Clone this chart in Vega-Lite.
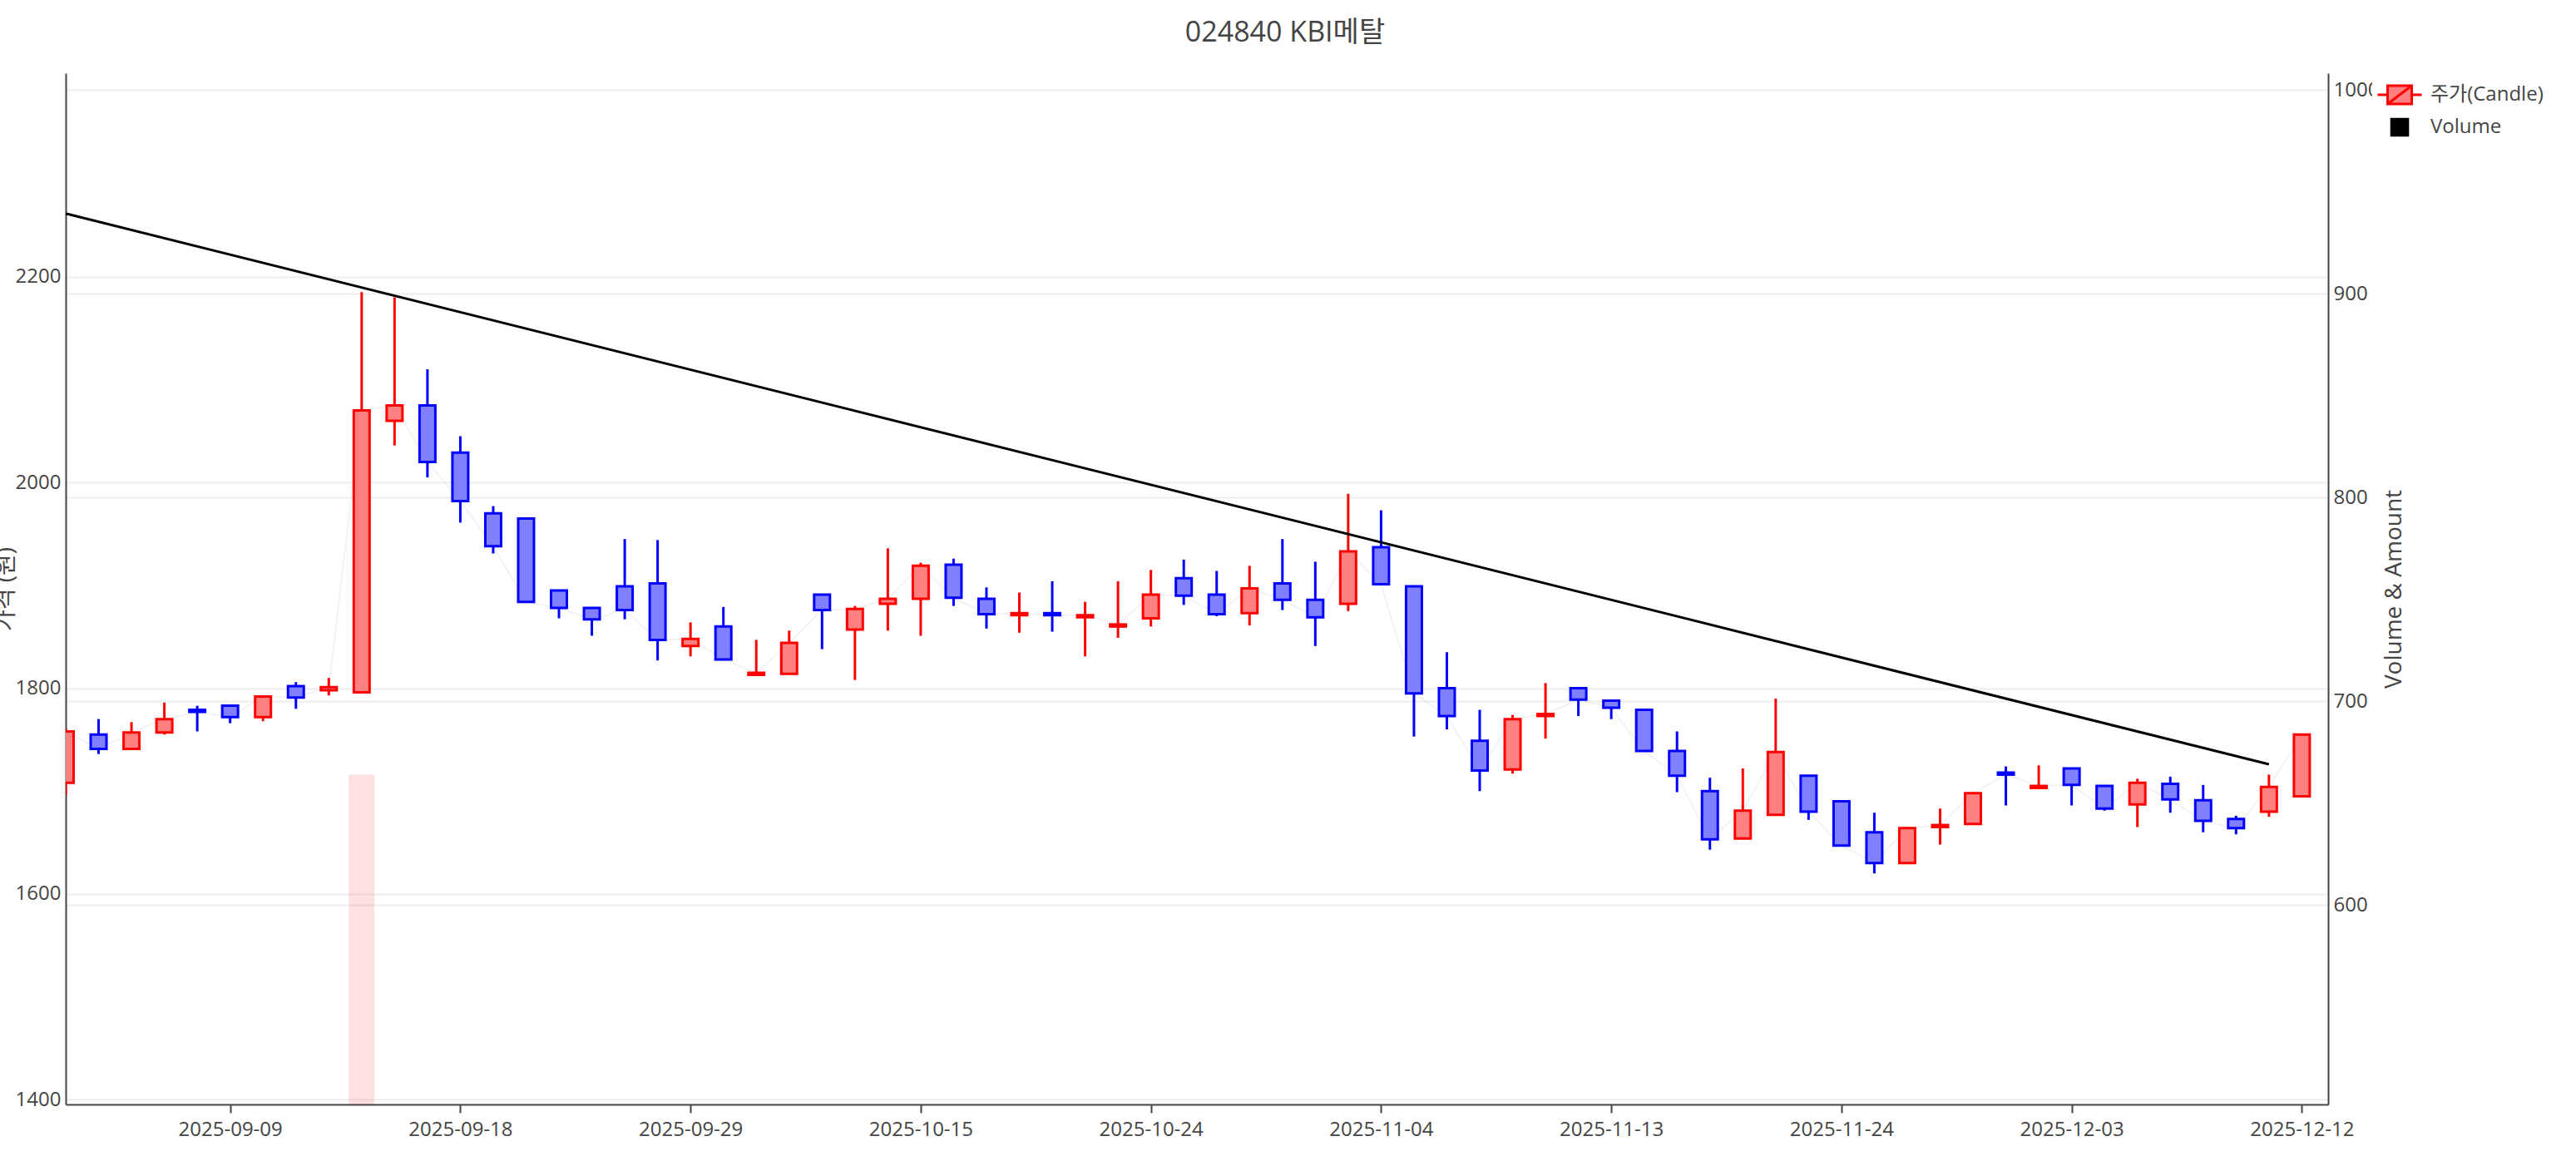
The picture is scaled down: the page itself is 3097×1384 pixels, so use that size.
{
  "$schema": "https://vega.github.io/schema/vega-lite/v6.json",
  "width": 2720,
  "height": 1240,
  "autosize": {"type": "none"},
  "padding": {"left": 79, "top": 88, "right": 298, "bottom": 56},
  "background": "white",
  "config": {"view": {"stroke": null}, "font": "Open Sans, Noto Sans CJK KR, sans-serif"},
  "title": {"text": "024840 KBI메탈", "fontSize": 34, "color": "#444444", "fontWeight": "normal", "anchor": "middle", "dx": 106, "offset": 24},
  "datasets": {
    "ohlc": [
      {"d": "2025-09-02", "o": 1708, "h": 1761, "l": 1696, "c": 1758},
      {"d": "2025-09-03", "o": 1755, "h": 1770, "l": 1736, "c": 1741},
      {"d": "2025-09-04", "o": 1741, "h": 1767, "l": 1741, "c": 1757},
      {"d": "2025-09-05", "o": 1757, "h": 1786, "l": 1755, "c": 1770},
      {"d": "2025-09-08", "o": 1779, "h": 1783, "l": 1758, "c": 1777},
      {"d": "2025-09-09", "o": 1783, "h": 1783, "l": 1766, "c": 1772},
      {"d": "2025-09-10", "o": 1772, "h": 1792, "l": 1768, "c": 1792},
      {"d": "2025-09-11", "o": 1802, "h": 1806, "l": 1780, "c": 1791},
      {"d": "2025-09-12", "o": 1798, "h": 1810, "l": 1793, "c": 1801},
      {"d": "2025-09-15", "o": 1796, "h": 2185, "l": 1796, "c": 2070},
      {"d": "2025-09-16", "o": 2060, "h": 2180, "l": 2036, "c": 2075},
      {"d": "2025-09-17", "o": 2075, "h": 2110, "l": 2005, "c": 2020},
      {"d": "2025-09-18", "o": 2029, "h": 2045, "l": 1961, "c": 1982},
      {"d": "2025-09-19", "o": 1970, "h": 1977, "l": 1931, "c": 1938},
      {"d": "2025-09-22", "o": 1965, "h": 1965, "l": 1884, "c": 1884},
      {"d": "2025-09-23", "o": 1895, "h": 1895, "l": 1868, "c": 1878},
      {"d": "2025-09-24", "o": 1878, "h": 1878, "l": 1851, "c": 1867},
      {"d": "2025-09-25", "o": 1899, "h": 1945, "l": 1867, "c": 1876},
      {"d": "2025-09-26", "o": 1902, "h": 1944, "l": 1827, "c": 1847},
      {"d": "2025-09-29", "o": 1841, "h": 1864, "l": 1831, "c": 1848},
      {"d": "2025-09-30", "o": 1860, "h": 1879, "l": 1828, "c": 1828},
      {"d": "2025-10-01", "o": 1813, "h": 1847, "l": 1813, "c": 1815},
      {"d": "2025-10-02", "o": 1814, "h": 1856, "l": 1814, "c": 1844},
      {"d": "2025-10-10", "o": 1891, "h": 1891, "l": 1838, "c": 1876},
      {"d": "2025-10-13", "o": 1857, "h": 1880, "l": 1808, "c": 1877},
      {"d": "2025-10-14", "o": 1882, "h": 1936, "l": 1856, "c": 1887},
      {"d": "2025-10-15", "o": 1887, "h": 1922, "l": 1851, "c": 1919},
      {"d": "2025-10-16", "o": 1920, "h": 1926, "l": 1880, "c": 1888},
      {"d": "2025-10-17", "o": 1887, "h": 1898, "l": 1858, "c": 1872},
      {"d": "2025-10-20", "o": 1871, "h": 1893, "l": 1854, "c": 1873},
      {"d": "2025-10-21", "o": 1873, "h": 1904, "l": 1855, "c": 1871},
      {"d": "2025-10-22", "o": 1869, "h": 1884, "l": 1831, "c": 1871},
      {"d": "2025-10-23", "o": 1860, "h": 1904, "l": 1849, "c": 1862},
      {"d": "2025-10-24", "o": 1868, "h": 1915, "l": 1860, "c": 1891},
      {"d": "2025-10-27", "o": 1907, "h": 1925, "l": 1881, "c": 1890},
      {"d": "2025-10-28", "o": 1891, "h": 1914, "l": 1870, "c": 1872},
      {"d": "2025-10-29", "o": 1873, "h": 1919, "l": 1861, "c": 1897},
      {"d": "2025-10-30", "o": 1902, "h": 1945, "l": 1876, "c": 1886},
      {"d": "2025-10-31", "o": 1886, "h": 1923, "l": 1841, "c": 1869},
      {"d": "2025-11-03", "o": 1882, "h": 1989, "l": 1875, "c": 1933},
      {"d": "2025-11-04", "o": 1937, "h": 1973, "l": 1901, "c": 1901},
      {"d": "2025-11-05", "o": 1899, "h": 1899, "l": 1753, "c": 1795},
      {"d": "2025-11-06", "o": 1800, "h": 1835, "l": 1760, "c": 1773},
      {"d": "2025-11-07", "o": 1749, "h": 1779, "l": 1700, "c": 1720},
      {"d": "2025-11-10", "o": 1721, "h": 1774, "l": 1717, "c": 1770},
      {"d": "2025-11-11", "o": 1773, "h": 1805, "l": 1751, "c": 1775},
      {"d": "2025-11-12", "o": 1800, "h": 1800, "l": 1773, "c": 1789},
      {"d": "2025-11-13", "o": 1788, "h": 1788, "l": 1770, "c": 1781},
      {"d": "2025-11-14", "o": 1779, "h": 1779, "l": 1739, "c": 1739},
      {"d": "2025-11-17", "o": 1739, "h": 1758, "l": 1699, "c": 1715},
      {"d": "2025-11-18", "o": 1700, "h": 1713, "l": 1643, "c": 1653},
      {"d": "2025-11-19", "o": 1654, "h": 1722, "l": 1654, "c": 1681},
      {"d": "2025-11-20", "o": 1677, "h": 1790, "l": 1677, "c": 1738},
      {"d": "2025-11-21", "o": 1715, "h": 1715, "l": 1672, "c": 1680},
      {"d": "2025-11-24", "o": 1690, "h": 1690, "l": 1646, "c": 1647},
      {"d": "2025-11-25", "o": 1660, "h": 1679, "l": 1620, "c": 1630},
      {"d": "2025-11-26", "o": 1630, "h": 1665, "l": 1630, "c": 1664},
      {"d": "2025-11-27", "o": 1665, "h": 1683, "l": 1648, "c": 1667},
      {"d": "2025-11-28", "o": 1668, "h": 1699, "l": 1667, "c": 1698},
      {"d": "2025-12-01", "o": 1718, "h": 1724, "l": 1686, "c": 1716},
      {"d": "2025-12-02", "o": 1703, "h": 1725, "l": 1703, "c": 1705},
      {"d": "2025-12-03", "o": 1722, "h": 1722, "l": 1686, "c": 1706},
      {"d": "2025-12-04", "o": 1705, "h": 1705, "l": 1681, "c": 1683},
      {"d": "2025-12-05", "o": 1687, "h": 1712, "l": 1665, "c": 1708},
      {"d": "2025-12-08", "o": 1707, "h": 1714, "l": 1679, "c": 1692},
      {"d": "2025-12-09", "o": 1691, "h": 1706, "l": 1660, "c": 1671},
      {"d": "2025-12-10", "o": 1673, "h": 1676, "l": 1658, "c": 1664},
      {"d": "2025-12-11", "o": 1680, "h": 1716, "l": 1675, "c": 1704},
      {"d": "2025-12-12", "o": 1695, "h": 1755, "l": 1695, "c": 1755}
    ],
    "trend": [
      {"d": "2025-09-02", "t": 2261.5},
      {"d": "2025-12-11", "t": 1726}
    ],
    "vol": [
      {"d": "2025-09-15", "v": 664}
    ]
  },
  "resolve": {"scale": {"y": "independent"}},
  "layer": [
    {
      "data": {"name": "vol"},
      "mark": {"type": "bar", "width": 31, "clip": true, "fill": "#ff0000", "fillOpacity": 0.12},
      "encoding": {
        "x": {
          "field": "d", "type": "ordinal",
          "scale": {"type": "point", "padding": 0.4, "align": 0},
          "axis": {
            "values": ["2025-09-09", "2025-09-18", "2025-09-29", "2025-10-15", "2025-10-24", "2025-11-04", "2025-11-13", "2025-11-24", "2025-12-03", "2025-12-12"],
            "title": null, "labelAngle": 0, "labelFontSize": 24, "labelColor": "#444444",
            "tickSize": 10, "tickColor": "#444444", "tickWidth": 2,
            "domainColor": "#444444", "domainWidth": 2, "labelPadding": 8, "grid": false
          }
        },
        "y": {
          "field": "v", "type": "quantitative",
          "scale": {"domain": [502.2, 1008.3], "nice": false, "zero": false},
          "axis": {
            "orient": "right", "values": [600, 700, 800, 900, 1000], "format": "d",
            "grid": true, "gridColor": "#eeeeee", "gridWidth": 2,
            "ticks": false, "tickSize": 0, "domainColor": "#444444", "domainWidth": 2,
            "labelFontSize": 24, "labelColor": "#444444", "labelPadding": 6,
            "title": "Volume & Amount", "titleFontSize": 28, "titleColor": "#444444", "titleFontWeight": "normal",
            "titleAngle": 270, "titleX": 79, "titleY": 620, "titleAlign": "center", "titleBaseline": "middle"
          }
        },
        "y2": {"datum": 0}
      }
    },
    {
      "layer": [
        {
          "data": {"name": "ohlc"},
          "mark": {"type": "rule", "strokeWidth": 3, "clip": true},
          "encoding": {
            "x": {"field": "d", "type": "ordinal"},
            "y": {
              "field": "l", "type": "quantitative",
              "scale": {"domain": [1395.4, 2397.9], "nice": false, "zero": false},
              "axis": {
                "orient": "left", "values": [1400, 1600, 1800, 2000, 2200], "format": "d",
                "grid": true, "gridColor": "#eeeeee", "gridWidth": 2,
                "ticks": false, "tickSize": 0, "domainColor": "#444444", "domainWidth": 2,
                "labelFontSize": 24, "labelColor": "#444444", "labelPadding": 6,
                "title": "가격 (원)", "titleFontSize": 28, "titleColor": "#444444", "titleFontWeight": "normal",
                "titleAngle": 270, "titleX": -72, "titleY": 620, "titleAlign": "center", "titleBaseline": "middle"
              }
            },
            "y2": {"field": "h"},
            "stroke": {"condition": {"test": "datum.c >= datum.o", "value": "#FF0000"}, "value": "#0000FF"}
          }
        },
        {
          "data": {"name": "ohlc"},
          "mark": {"type": "line", "stroke": "#000000", "strokeOpacity": 0.05, "strokeWidth": 2},
          "encoding": {
            "x": {"field": "d", "type": "ordinal"},
            "y": {"field": "c", "type": "quantitative"}
          }
        },
        {
          "data": {"name": "ohlc"},
          "mark": {"type": "bar", "width": 19, "strokeWidth": 3, "clip": true},
          "encoding": {
            "x": {"field": "d", "type": "ordinal"},
            "y": {"field": "o", "type": "quantitative"},
            "y2": {"field": "c"},
            "fill": {"condition": {"test": "datum.c >= datum.o", "value": "#FF8080"}, "value": "#8080FF"},
            "stroke": {"condition": {"test": "datum.c >= datum.o", "value": "#FF0000"}, "value": "#0000FF"}
          }
        },
        {
          "data": {"name": "trend"},
          "mark": {"type": "line", "stroke": "#000000", "strokeWidth": 3},
          "encoding": {
            "x": {"field": "d", "type": "ordinal"},
            "y": {"field": "t", "type": "quantitative"}
          }
        },
        {
          "data": {"name": "ohlc"},
          "mark": {"type": "point", "opacity": 0, "filled": true, "clip": true},
          "encoding": {
            "x": {"field": "d", "type": "ordinal"},
            "y": {"field": "c", "type": "quantitative"},
            "fill": {
              "datum": "주가(Candle)",
              "scale": {"domain": ["주가(Candle)", "Volume"], "range": ["#FF8080", "#000000"]},
              "legend": {
                "orient": "none", "legendX": 2773, "legendY": -7, "padding": 14, "fillColor": "white",
                "title": null, "labelFontSize": 24, "labelColor": "#444444",
                "symbolSize": 1225, "symbolStrokeWidth": 3, "labelOffset": 18, "symbolOpacity": 1
              }
            },
            "stroke": {
              "datum": "주가(Candle)",
              "scale": {"domain": ["주가(Candle)", "Volume"], "range": ["#FF0000", "#000000"]},
              "legend": {
                "orient": "none", "legendX": 2773, "legendY": -7, "padding": 14, "fillColor": "white",
                "title": null, "labelFontSize": 24, "labelColor": "#444444",
                "symbolSize": 1225, "symbolStrokeWidth": 3, "labelOffset": 18, "symbolOpacity": 1
              }
            },
            "shape": {
              "datum": "주가(Candle)",
              "scale": {"domain": ["주가(Candle)", "Volume"], "range": ["M-1.514,0H-0.83M0.83,0H1.514M-0.83,-0.63H0.83V0.63H-0.83ZM-0.83,0.63L0.83,-0.63", "M-0.56,-0.56H0.56V0.56H-0.56Z"]},
              "legend": {
                "orient": "none", "legendX": 2773, "legendY": -7, "padding": 14, "fillColor": "white",
                "title": null, "labelFontSize": 24, "labelColor": "#444444",
                "symbolSize": 1225, "symbolStrokeWidth": 3, "labelOffset": 18, "symbolOpacity": 1
              }
            }
          }
        },
        {
          "data": {"name": "ohlc"},
          "mark": {"type": "point", "opacity": 0, "filled": true, "clip": true},
          "encoding": {
            "x": {"field": "d", "type": "ordinal"},
            "y": {"field": "c", "type": "quantitative"},
            "fill": {"datum": "Volume"},
            "stroke": {"datum": "Volume"},
            "shape": {"datum": "Volume"}
          }
        }
      ]
    }
  ]
}
